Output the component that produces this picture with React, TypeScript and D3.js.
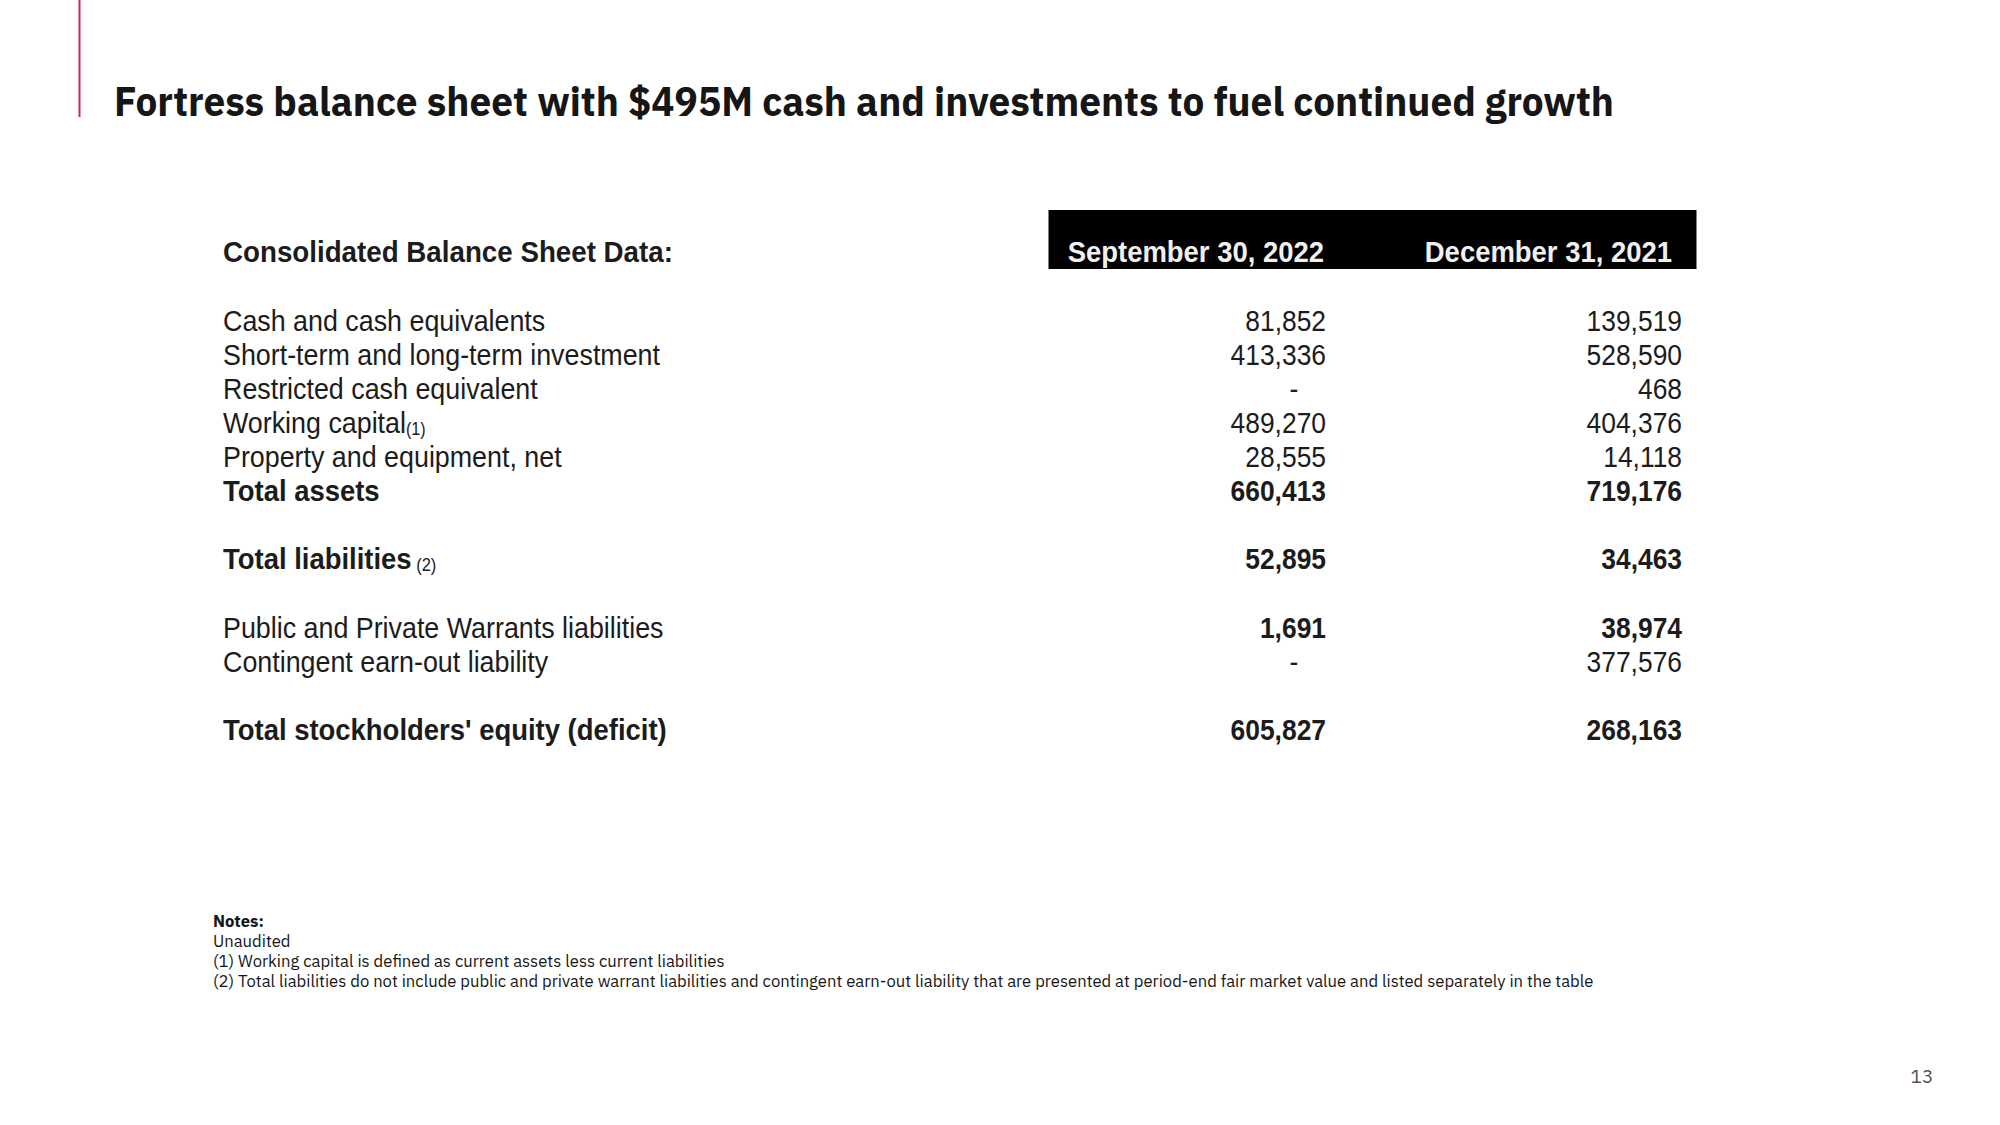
import React from "react";
import * as d3 from "d3";

const title = "Fortress balance sheet with $495M cash and investments to fuel continued growth";
const tableHeading = "Consolidated Balance Sheet Data:";
const periods = ["September 30, 2022", "December 31, 2021"];
const rowLabels = [
  "Cash and cash equivalents",
  "Short-term and long-term investment",
  "Restricted cash equivalent",
  "Working capital",
  "Property and equipment, net",
  "Total assets",
  "Total liabilities",
  "Public and Private Warrants liabilities",
  "Contingent earn-out liability",
  "Total stockholders' equity (deficit)",
];
const rowNotes = ["", "", "", "(1)", "", "", " (2)", "", "", ""];
const rowSlots = [0, 1, 2, 3, 4, 5, 7, 9, 10, 12];
const labelBold = [false, false, false, false, false, true, true, false, false, true];
const valuesSep2022: (number | null)[] = [81852, 413336, null, 489270, 28555, 660413, 52895, 1691, null, 605827];
const valuesDec2021: (number | null)[] = [139519, 528590, 468, 404376, 14118, 719176, 34463, 38974, 377576, 268163];
const valueBold = [false, false, false, false, false, true, true, true, false, true];
const notesHeading = "Notes:";
const notes = [
  "Unaudited",
  "(1) Working capital is defined as current assets less current liabilities",
  "(2) Total liabilities do not include public and private warrant liabilities and contingent earn-out liability that are presented at period-end fair market value and listed separately in the table",
];
const pageNumber = "13";

const W = 2000;
const H = 1125;
const tableFont = "'Liberation Sans', Arial, sans-serif";
const uiFont = "'IBM Plex Sans', 'Noto Sans', 'Open Sans', sans-serif";
const FS = 30;
const SX_LABEL = 0.895;
const SX_BOLD = 0.915;
const SX_HEAD = 0.925;
const SX_NUM = 0.88;

function NarrowText(props: {
  x: number; y: number; sx: number; bold?: boolean; anchor?: "start" | "middle" | "end"; fill?: string; children: React.ReactNode;
}) {
  const { x, y, sx, bold, anchor, fill, children } = props;
  return (
    <text transform={`translate(${x},${y}) scale(${sx},1)`} dy="0.34em" fontSize={FS}
      fontWeight={bold ? 700 : 400} textAnchor={anchor || "start"} fill={fill}>
      {children}
    </text>
  );
}

export default function App() {
  const y = d3.scaleLinear().domain([0, 12]).range([321, 729.5]);
  const colRight = d3.scalePoint<string>().domain(periods).range([1326, 1682]);
  const fmt = d3.format(",");
  const noteY = d3.scaleLinear().domain([0, 3]).range([921, 981]);

  return (
    <svg width={W} height={H} viewBox={`0 0 ${W} ${H}`} style={{ display: "block", position: "absolute", left: 0, top: 0, background: "#fff" }}>
      <rect x={0} y={0} width={W} height={H} fill="#fff" />
      <line x1={79.5} x2={79.5} y1={0} y2={117} stroke="#da1e5a" strokeWidth={2} />
      <text x={114} y={116} fontFamily={uiFont} fontWeight={700} fontSize={40} fill="#161616"
        textLength={1500} lengthAdjust="spacingAndGlyphs">{title}</text>

      {/* table */}
      <rect x={1048.5} y={210} width={648} height={59} fill="#000" />
      <g fontFamily={tableFont} fill="#1c1c1c">
        <NarrowText x={223} y={y(-2) - 1} sx={SX_HEAD} bold>{tableHeading}</NarrowText>
        {periods.map((p, i) => (
          <NarrowText key={p} x={colRight(p)! - (i === 0 ? 2 : 10)} y={y(-2) - 1} sx={SX_BOLD} bold anchor="end" fill="#f0f0f0">{p}</NarrowText>
        ))}
        {rowLabels.map((lab, i) => (
          <NarrowText key={lab} x={223} y={y(rowSlots[i])} sx={labelBold[i] ? SX_BOLD : SX_LABEL} bold={labelBold[i]}>
            {lab}
            {rowNotes[i] ? <tspan fontSize={18} fontWeight={400} dy="0.1em">{rowNotes[i]}</tspan> : null}
          </NarrowText>
        ))}
        {[valuesSep2022, valuesDec2021].map((vals, c) =>
          vals.map((v, i) => (
            <NarrowText key={`${c}-${i}`} x={v === null ? colRight(periods[c])! - 32 : colRight(periods[c])!}
              y={y(rowSlots[i])} sx={SX_NUM} bold={valueBold[i]} anchor={v === null ? "middle" : "end"}>
              {v === null ? "-" : fmt(v)}
            </NarrowText>
          ))
        )}
      </g>

      {/* notes */}
      <g fontFamily={uiFont} fontSize={16.65} fill="#161616">
        <text x={213} y={noteY(0)} dy="0.35em" fontWeight={700}>{notesHeading}</text>
        {notes.map((n, i) => (
          <text key={i} x={213} y={noteY(i + 1)} dy="0.35em">{n}</text>
        ))}
      </g>
      <text x={1922} y={1076} dy="0.35em" textAnchor="middle" fontFamily={uiFont} fontSize={19} fill="#525252">{pageNumber}</text>
    </svg>
  );
}
